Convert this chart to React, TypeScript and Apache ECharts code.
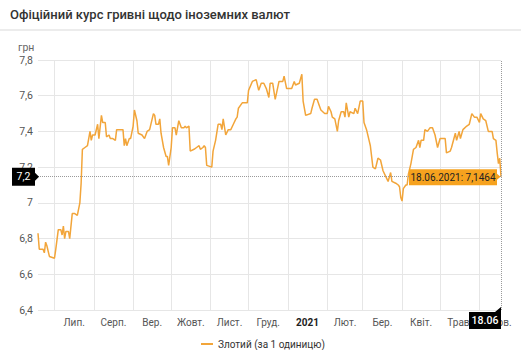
import React, { useEffect, useRef } from 'react';
import * as echarts from 'echarts';

const chartTitle = 'Офіційний курс гривні щодо іноземних валют';
const unitLabel = 'грн';
const seriesName = 'Злотий (за 1 одиницю)';

const rangeStart = '2020-06-18';
const rangeEnd = '2021-06-18';

const monthStarts = [
  '2020-07-01', '2020-08-01', '2020-09-01', '2020-10-01', '2020-11-01', '2020-12-01',
  '2021-01-01', '2021-02-01', '2021-03-01', '2021-04-01', '2021-05-01', '2021-06-01', '2021-07-01',
];
const monthLabels = ['Лип.', 'Серп.', 'Вер.', 'Жовт.', 'Лист.', 'Груд.', '2021', 'Лют.', 'Бер.', 'Квіт.', 'Трав.', 'Черв.'];

const yMin = 6.4;
const yMax = 7.8;
const yStep = 0.2;

const dates = [
  '2020-06-18', '2020-06-19', '2020-06-22', '2020-06-23', '2020-06-24', '2020-06-25', '2020-06-27',
  '2020-07-01', '2020-07-02', '2020-07-04', '2020-07-06', '2020-07-07', '2020-07-08', '2020-07-09',
  '2020-07-10', '2020-07-12', '2020-07-13', '2020-07-15', '2020-07-17', '2020-07-19', '2020-07-21',
  '2020-07-22', '2020-07-23', '2020-07-25', '2020-07-27', '2020-07-29', '2020-07-30', '2020-07-31',
  '2020-08-02', '2020-08-04', '2020-08-05', '2020-08-07', '2020-08-08', '2020-08-10', '2020-08-11',
  '2020-08-13', '2020-08-14', '2020-08-16', '2020-08-18', '2020-08-19', '2020-08-21', '2020-08-24',
  '2020-08-25', '2020-08-26', '2020-08-27', '2020-08-29', '2020-08-30', '2020-09-01', '2020-09-02',
  '2020-09-04', '2020-09-05', '2020-09-08', '2020-09-10', '2020-09-12', '2020-09-14', '2020-09-17',
  '2020-09-18', '2020-09-19', '2020-09-21', '2020-09-22', '2020-09-23', '2020-09-25', '2020-09-27',
  '2020-09-28', '2020-09-29', '2020-10-01', '2020-10-02', '2020-10-04', '2020-10-05', '2020-10-07',
  '2020-10-09', '2020-10-11', '2020-10-12', '2020-10-13', '2020-10-15', '2020-10-16', '2020-10-19',
  '2020-10-21', '2020-10-23', '2020-10-24', '2020-10-26', '2020-10-27', '2020-10-28', '2020-10-29',
  '2020-11-02', '2020-11-03', '2020-11-05', '2020-11-07', '2020-11-09', '2020-11-10', '2020-11-11',
  '2020-11-13', '2020-11-15', '2020-11-17', '2020-11-19', '2020-11-21', '2020-11-22', '2020-11-23',
  '2020-11-26', '2020-11-30', '2020-12-01', '2020-12-04', '2020-12-07', '2020-12-09', '2020-12-11',
  '2020-12-13', '2020-12-15', '2020-12-17', '2020-12-18', '2020-12-20', '2020-12-22', '2020-12-25',
  '2020-12-28', '2020-12-29', '2020-12-31', '2021-01-04', '2021-01-06', '2021-01-07', '2021-01-10',
  '2021-01-12', '2021-01-13', '2021-01-15', '2021-01-19', '2021-01-20', '2021-01-22', '2021-01-24',
  '2021-01-26', '2021-01-27', '2021-01-30', '2021-02-01', '2021-02-02', '2021-02-04', '2021-02-05',
  '2021-02-07', '2021-02-09', '2021-02-10', '2021-02-12', '2021-02-14', '2021-02-15', '2021-02-16',
  '2021-02-18', '2021-02-19', '2021-02-22', '2021-02-23', '2021-02-25', '2021-02-27', '2021-03-01',
  '2021-03-02', '2021-03-04', '2021-03-06', '2021-03-07', '2021-03-09', '2021-03-11', '2021-03-13',
  '2021-03-15', '2021-03-17', '2021-03-19', '2021-03-21', '2021-03-23', '2021-03-24', '2021-03-27',
  '2021-03-29', '2021-03-30', '2021-03-31', '2021-04-01', '2021-04-02', '2021-04-04', '2021-04-05',
  '2021-04-06', '2021-04-08', '2021-04-10', '2021-04-12', '2021-04-14', '2021-04-15', '2021-04-16',
  '2021-04-18', '2021-04-19', '2021-04-21', '2021-04-23', '2021-04-25', '2021-04-27', '2021-04-29',
  '2021-05-01', '2021-05-05', '2021-05-06', '2021-05-09', '2021-05-10', '2021-05-13', '2021-05-14',
  '2021-05-16', '2021-05-17', '2021-05-19', '2021-05-22', '2021-05-24', '2021-05-26', '2021-05-28',
  '2021-05-30', '2021-06-01', '2021-06-02', '2021-06-04', '2021-06-06', '2021-06-08', '2021-06-11',
  '2021-06-12', '2021-06-14', '2021-06-15', '2021-06-16', '2021-06-17', '2021-06-18',
];

const rates = [
  6.83, 6.74, 6.74, 6.72, 6.78, 6.76, 6.70,
  6.69, 6.74, 6.85, 6.85, 6.82, 6.87, 6.80,
  6.84, 6.84, 6.80, 6.94, 6.94, 6.93, 7.00,
  7.11, 7.30, 7.31, 7.32, 7.40, 7.35, 7.38,
  7.38, 7.44, 7.36, 7.49, 7.45, 7.45, 7.37,
  7.38, 7.36, 7.36, 7.35, 7.41, 7.41, 7.41,
  7.32, 7.36, 7.32, 7.36, 7.36, 7.43, 7.52,
  7.46, 7.39, 7.38, 7.36, 7.40, 7.41, 7.50,
  7.49, 7.44, 7.44, 7.47, 7.39, 7.31, 7.26,
  7.26, 7.21, 7.31, 7.42, 7.42, 7.38, 7.46,
  7.42, 7.42, 7.43, 7.42, 7.43, 7.29, 7.30,
  7.31, 7.32, 7.30, 7.31, 7.32, 7.31, 7.21,
  7.20, 7.29, 7.35, 7.44, 7.44, 7.41, 7.47,
  7.38, 7.41, 7.41, 7.44, 7.47, 7.48, 7.53,
  7.56, 7.56, 7.63, 7.68, 7.69, 7.63, 7.67,
  7.67, 7.64, 7.59, 7.67, 7.67, 7.58, 7.68,
  7.68, 7.71, 7.64, 7.64, 7.68, 7.66, 7.67,
  7.72, 7.57, 7.49, 7.50, 7.53, 7.58, 7.58,
  7.54, 7.52, 7.50, 7.50, 7.54, 7.51, 7.48,
  7.47, 7.40, 7.46, 7.51, 7.51, 7.48, 7.56,
  7.48, 7.51, 7.50, 7.53, 7.50, 7.57, 7.57,
  7.45, 7.41, 7.35, 7.32, 7.20, 7.19, 7.25,
  7.24, 7.18, 7.15, 7.12, 7.17, 7.12, 7.11,
  7.10, 7.09, 7.03, 7.01, 7.08, 7.10, 7.10,
  7.16, 7.22, 7.30, 7.31, 7.35, 7.31, 7.35,
  7.35, 7.41, 7.40, 7.42, 7.42, 7.38, 7.31,
  7.36, 7.36, 7.28, 7.29, 7.31, 7.39, 7.35,
  7.40, 7.36, 7.41, 7.43, 7.44, 7.50, 7.48,
  7.48, 7.45, 7.50, 7.47, 7.46, 7.40, 7.40,
  7.36, 7.35, 7.28, 7.22, 7.25, 7.1464,
];

const cursorDate = '2021-06-18';
const cursorValue = 7.1464;
const cursorYLabel = '7,2';
const cursorXLabel = '18.06';
const tooltipText = '18.06.2021: 7,1464';

const FONT = 'Roboto, "Noto Sans", sans-serif';
const LINE_COLOR = '#f2a53a';
const TIP_COLOR = '#f6a21e';

function ts(s: string): number {
  const [y, m, d] = s.split('-').map(Number);
  return Date.UTC(y, m - 1, d);
}

export default function App() {
  const ref = useRef<HTMLDivElement>(null);

  useEffect(() => {
    document.body.style.margin = '0';
    if (!ref.current) return;
    const chart = echarts.init(ref.current, undefined, { renderer: 'svg' });

    const startTs = monthStarts.map(ts);
    const midTs = monthLabels.map((_, i) => (startTs[i] + startTs[i + 1]) / 2);
    const gridTs = startTs.slice(0, startTs.length - 1);

    const fmtY = (v: number) => String(+v.toFixed(1)).replace('.', ',');

    chart.setOption({
      animation: false,
      backgroundColor: '#fff',
      textStyle: { fontFamily: FONT },
      grid: { left: 38, right: 20, top: 60, bottom: 40, containLabel: false },
      legend: {
        left: 196,
        top: 334,
        icon: 'rect',
        itemWidth: 12,
        itemHeight: 2,
        itemGap: 10,
        textStyle: { fontSize: 10, color: '#333', fontFamily: FONT },
        data: [seriesName],
      },
      xAxis: {
        type: 'value',
        min: ts(rangeStart),
        max: ts(rangeEnd),
        axisLine: { show: false },
        axisTick: { show: false, customValues: gridTs },
        splitLine: { show: true, lineStyle: { color: '#e6e6e6', width: 1 } },
        axisLabel: {
          customValues: midTs,
          color: '#555',
          fontSize: 10,
          fontFamily: FONT,
          margin: 7,
          hideOverlap: false,
          formatter: (v: number) => {
            let idx = 0;
            let best = Infinity;
            midTs.forEach((m, i) => {
              const d = Math.abs(m - v);
              if (d < best) { best = d; idx = i; }
            });
            const lbl = monthLabels[idx];
            return /^\d+$/.test(lbl) ? '{b|' + lbl + '}' : lbl;
          },
          rich: { b: { fontWeight: 'bold', color: '#222', fontSize: 10, fontFamily: FONT } },
        },
      },
      yAxis: {
        type: 'value',
        min: yMin,
        max: yMax,
        interval: yStep,
        axisLine: { show: false },
        axisTick: { show: false },
        splitLine: { show: true, lineStyle: { color: '#e6e6e6', width: 1 } },
        axisLabel: { color: '#555', fontSize: 10.5, fontFamily: FONT, margin: 5, formatter: fmtY },
      },
      series: [
        {
          name: seriesName,
          type: 'line',
          showSymbol: false,
          symbol: 'none',
          color: LINE_COLOR,
          lineStyle: { color: LINE_COLOR, width: 1.5 },
          data: dates.map((d, i) => [ts(d), rates[i]]),
          markLine: {
            silent: true,
            symbol: 'none',
            label: { show: false },
            lineStyle: { type: 'dotted', color: '#9a9a9a', width: 1 },
            data: [{ yAxis: cursorValue }, { xAxis: ts(cursorDate) }],
          },
        },
      ],
    });

    const [px, py] = chart.convertToPixel({ gridIndex: 0 }, [ts(cursorDate), cursorValue]) as number[];
    const bottomY = (chart.convertToPixel({ gridIndex: 0 }, [ts(cursorDate), yMin]) as number[])[1];

    chart.setOption({
      graphic: [
        {
          type: 'text', x: 10, y: 14, z: 100,
          style: { text: chartTitle, fill: '#333', font: '500 13px ' + FONT, verticalAlign: 'middle' },
        },
        {
          type: 'line', z: 100,
          shape: { x1: 0, y1: 30, x2: 521, y2: 30 },
          style: { stroke: '#e6e6e6', lineWidth: 1.5 },
        },
        {
          type: 'text', x: 18, y: 47, z: 100,
          style: { text: unitLabel, fill: '#666', font: '10.5px ' + FONT, verticalAlign: 'middle' },
        },
        {
          type: 'polygon', z: 100,
          shape: {
            points: [
              [12, py - 9], [35, py - 9], [35, py - 4], [39, py], [35, py + 4], [35, py + 9], [12, py + 9],
            ],
          },
          style: { fill: '#000' },
        },
        {
          type: 'text', x: 23.5, y: py, z: 101,
          style: { text: cursorYLabel, fill: '#fff', font: '10.5px ' + FONT, align: 'center', verticalAlign: 'middle' },
        },
        {
          type: 'polygon', z: 100,
          shape: {
            points: [
              [px - 32, bottomY + 2], [px - 6, bottomY + 2], [px, bottomY - 3], [px, bottomY + 19], [px - 32, bottomY + 19],
            ],
          },
          style: { fill: '#000' },
        },
        {
          type: 'text', x: px - 16, y: bottomY + 10.5, z: 101,
          style: { text: cursorXLabel, fill: '#fff', font: '500 10.5px ' + FONT, align: 'center', verticalAlign: 'middle' },
        },
        {
          type: 'polygon', z: 100,
          shape: {
            points: [
              [px - 92, py - 7.5], [px - 4, py - 7.5], [px - 4, py - 3], [px - 0.5, py], [px - 4, py + 3],
              [px - 4, py + 8.5], [px - 92, py + 8.5],
            ],
          },
          style: { fill: TIP_COLOR },
        },
        {
          type: 'text', x: px - 48, y: py + 0.5, z: 101,
          style: { text: tooltipText, fill: '#222', font: '10px ' + FONT, align: 'center', verticalAlign: 'middle' },
        },
      ],
    });

    return () => chart.dispose();
  }, []);

  return (
    <div
      ref={ref}
      style={{ position: 'fixed', left: 0, top: 0, width: 521, height: 350, background: '#fff' }}
    />
  );
}
